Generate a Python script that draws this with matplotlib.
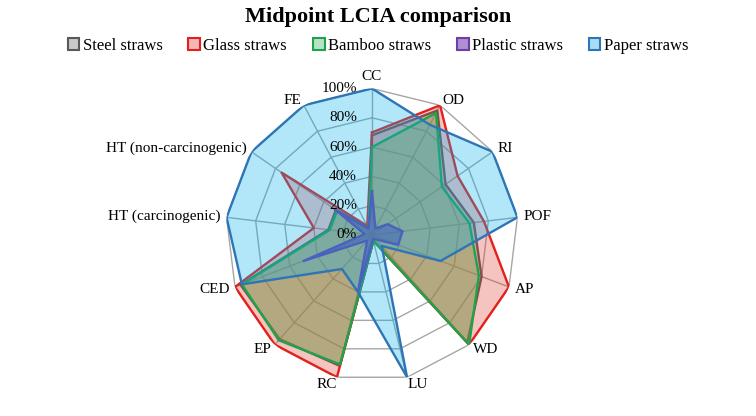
import numpy as np
import matplotlib
matplotlib.use("Agg")
import matplotlib.pyplot as plt
from matplotlib.patches import Patch
from matplotlib.transforms import ScaledTranslation

categories = ["CC", "OD", "RI", "POF", "AP", "WD", "LU", "RC", "EP", "CED",
              "HT (carcinogenic)", "HT (non-carcinogenic)", "FE"]

steel   = [68, 96, 61, 70, 80, 98, 4, 92, 95, 96, 30, 30, 5]
glass   = [70, 100, 71, 77, 100, 100, 4, 100, 100, 100, 40, 75, 7]
bamboo  = [60, 94, 58, 67, 78, 100, 4, 91, 96, 95, 29, 29, 5]
plastic = [30, 5, 13, 21, 19, 4, 3, 40, 5, 50, 5, 31, 5]
paper   = [100, 85, 100, 100, 50, 10, 100, 40, 31, 95, 100, 100, 100]

series_names = ["Steel straws", "Glass straws", "Bamboo straws", "Plastic straws", "Paper straws"]
series_vals = [steel, glass, bamboo, plastic, paper]
tick_values = [0, 20, 40, 60, 80, 100]
tick_labels = ["0%", "20%", "40%", "60%", "80%", "100%"]

fills = [("#808080", 0.30), ("#E03C31", 0.30), ("#7AA84A", 0.40), ("#5B3FA8", 0.55), ("#00B0F0", 0.30)]
edges = ["#595959", "#E3201B", "#1FA34A", "#6A3FA8", "#2E75B6"]
legend_faces = ["#C8C8C8", "#F4B6B6", "#B6E3C3", "#B08FD0", "#A9DDF5"]

serif = ["Liberation Serif", "DejaVu Serif"]
plt.rcParams["font.family"] = serif

fig = plt.figure(figsize=(7.56, 4.16), dpi=100)
W, H = 756, 416
cx, cy, R = 372, 235, 146.5
ax = fig.add_axes([(cx - R) / W, (H - cy - R) / H, 2 * R / W, 2 * R / H], projection="polar")
ax.set_theta_zero_location("N")
ax.set_theta_direction(-1)
ax.set_ylim(0, 100)
ax.grid(False)
ax.spines["polar"].set_visible(False)
ax.set_xticks([])
ax.set_yticks([])
ax.patch.set_alpha(0)

n = len(categories)
theta = np.arange(n) * 2 * np.pi / n
theta_c = np.append(theta, theta[0])

# polygon grid
for lvl in tick_values[1:]:
    ax.plot(theta_c, [lvl] * (n + 1), color="#A6A6A6", lw=1.0, zorder=1)
for t in theta:
    ax.plot([t, t], [0, 100], color="#A6A6A6", lw=1.0, zorder=1)

z = 2
for vals, (fc, a), ec in zip(series_vals, fills, edges):
    v = np.append(vals, vals[0])
    ax.fill(theta_c, v, color=fc, alpha=a, lw=0, zorder=z)
    ax.plot(theta_c, v, color=ec, lw=1.7, zorder=z + 0.5)
    z += 1

# radial tick labels
off = ScaledTranslation(-0.15, 0, fig.dpi_scale_trans)
for tv, tl in zip(tick_values, tick_labels):
    ax.text(0, tv, tl, transform=ax.transData + off, ha="right", va="center",
            fontsize=11, zorder=20)

# category labels
for t, lab in zip(theta, categories):
    s, c = np.sin(t), np.cos(t)
    ha = "left" if s > 0.15 else ("right" if s < -0.15 else "center")
    if c > 0.9:
        va = "bottom"
        r = 104
    elif c < -0.9:
        va = "top"
        r = 100.5
    else:
        va = "center"
        r = 104
    ax.text(t, r, lab, ha=ha, va=va, fontsize=11, zorder=20)

fig.text(0.5, 1 - 17 / H, "Midpoint LCIA comparison", ha="center", va="center",
         fontsize=16, fontweight="bold")

handles = [Patch(facecolor=f, edgecolor=e, lw=1.5) for f, e in zip(legend_faces, edges)]
fig.legend(handles, series_names, loc="center", bbox_to_anchor=(0.5, 1 - 46 / H), ncol=5,
           frameon=False, fontsize=12, handlelength=0.7, handleheight=0.7,
           handletextpad=0.2, columnspacing=1.55)

fig.savefig("out.png", dpi=100)
